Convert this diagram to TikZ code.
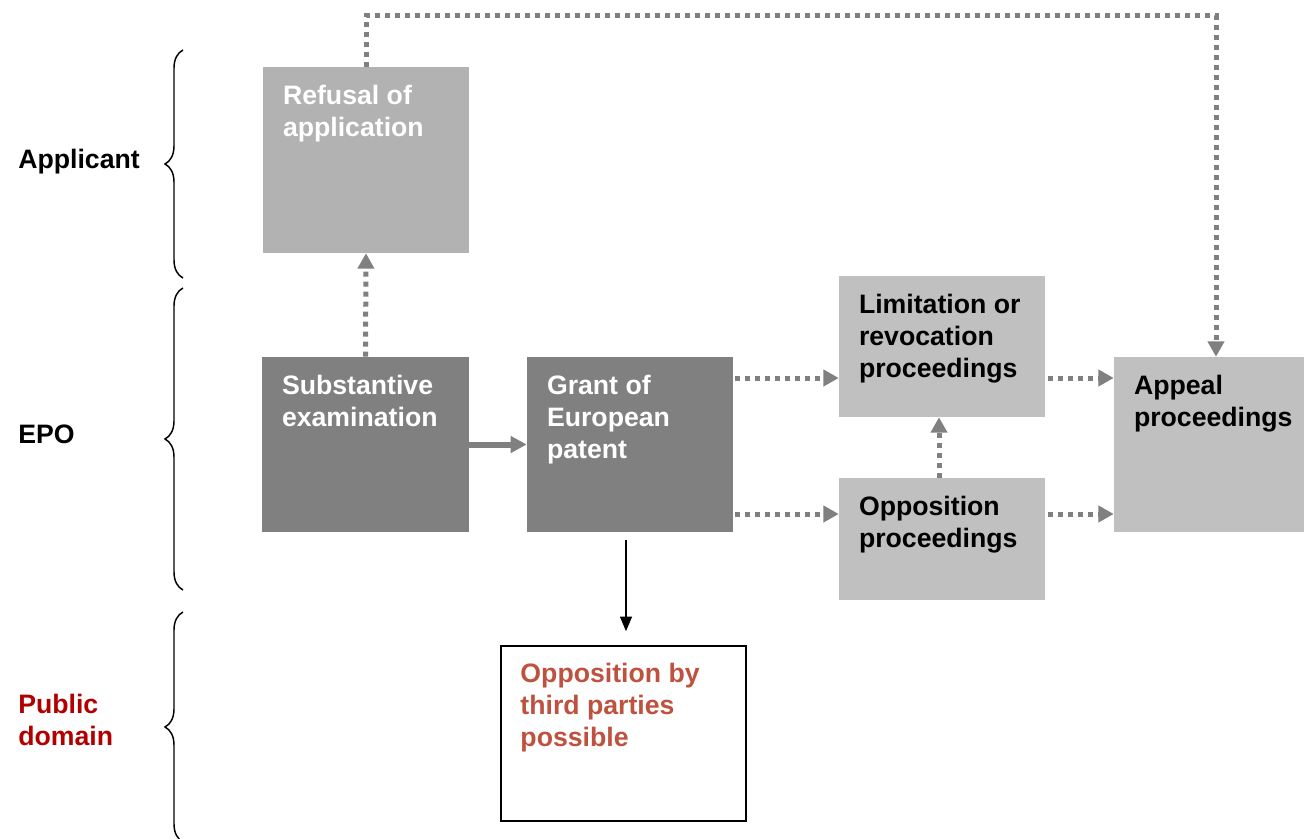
\documentclass[tikz,border=0pt]{standalone}
\usepackage{fontspec}
\setmainfont{Liberation Sans}
\usetikzlibrary{arrows.meta,decorations.pathreplacing,positioning}
\definecolor{darkstage}{RGB}{128,128,128}
\definecolor{refusalgray}{RGB}{178,178,178}
\definecolor{palestage}{RGB}{192,192,192}
\definecolor{arrowgray}{RGB}{128,128,128}
\definecolor{publicred}{RGB}{176,0,0}
\definecolor{thirdred}{RGB}{190,82,62}
\begin{document}
\begin{tikzpicture}[x=0.75pt,y=-0.75pt]

    \tikzset{
      stage/.style={
        draw=none,
        inner sep=0pt,
        minimum width=154.5pt,
        minimum height=131.25pt,
      },
      stagetext/.style={
        anchor=north west,
        inner xsep=15pt,
        inner ysep=13.5pt,
        align=left,
        font=\bfseries\fontsize{20pt}{24pt}\selectfont,
      },
      sidetext/.style={
        anchor=west,
        inner sep=0pt,
        align=left,
        font=\bfseries\fontsize{20pt}{24pt}\selectfont,
      },
      groupbrace/.style={
        decorate,
        decoration={brace,amplitude=13.5pt},
        line width=1.1pt,
      },
      flowdots/.style={
        draw=arrowgray,
        line width=3.75pt,
        dash pattern=on 3.75pt off 3.75pt,
        -{Triangle[length=11.5pt,width=12pt]},
      },
      flowline/.style={
        draw=arrowgray,
        line width=4.5pt,
        -{Triangle[length=12pt,width=12pt]},
      },
      thinarrow/.style={
        draw=black,
        line width=1.1pt,
        -{Triangle[length=11pt,width=9pt]},
      },
    }
    \useasboundingbox (0,0) rectangle (1304,839);

    % side labels and braces
    \node[sidetext] (applicant) at (18,162) {Applicant};
    \node[sidetext] (epo) at (18,434) {EPO};
    \node[sidetext,text=publicred] (public) at (18,720) {Public\\domain};
    \draw[groupbrace] (183,278) -- (183,50);
    \draw[groupbrace] (183,590) -- (183,288);
    \draw[groupbrace] (183,842) -- (183,612);

    % stages
    \node[stage,fill=refusalgray,minimum height=139.5pt,
      label={[stagetext,text=white]north west:{Refusal of\\application}}] (refusal) at (366,160) {};
    \node[stage,fill=darkstage,minimum width=155.25pt,
      label={[stagetext,text=white]north west:{Substantive\\examination}}] (exam) at (365.5,444.5) {};
    \node[stage,fill=darkstage,
      label={[stagetext,text=white]north west:{Grant of\\European\\patent}}] (grant) at (630,444.5) {};
    \node[stage,fill=palestage,minimum height=105.75pt,
      label={[stagetext]north west:{Limitation or\\revocation\\proceedings}}] (limit) at (942,346.5) {};
    \node[stage,fill=palestage,minimum height=91.5pt,
      label={[stagetext]north west:{Opposition\\proceedings}}] (oppo) at (942,539) {};
    \node[stage,fill=palestage,minimum width=142.5pt,
      label={[stagetext]north west:{Appeal\\proceedings}}] (appeal) at (1209,444.5) {};
    \node[stage,draw=black,line width=1.2pt,minimum width=183.75pt,
      label={[stagetext,text=thirdred]north west:{Opposition by\\third parties\\possible}}] (third) at (623.5,733.5) {};

    % connectors
    \coordinate (upper) at (0,378);
    \coordinate (lower) at (0,514);
    \draw[flowdots] (refusal.north) -- ++(0,-51) -| ([xshift=5.25pt]appeal.north);
    \draw[flowdots] (exam.north) -- (refusal.south);
    \draw[flowline] (exam.east) -- (grant.west);
    \draw[flowdots,shorten <=1.5pt] (grant.east |- upper) -- (limit.west |- upper);
    \draw[flowdots,shorten <=1.5pt] (grant.east |- lower) -- (oppo.west |- lower);
    \draw[flowdots] ([xshift=-2.25pt]oppo.north) -- ([xshift=-2.25pt]limit.south);
    \draw[flowdots,shorten <=2.25pt] (limit.east |- upper) -- (appeal.west |- upper);
    \draw[flowdots,shorten <=2.25pt] (oppo.east |- lower) -- (appeal.west |- lower);
    \draw[thinarrow,shorten <=6pt,shorten >=10.5pt] ([xshift=-3pt]grant.south) -- ([xshift=-3pt]grant.south |- third.north);

\end{tikzpicture}
\end{document}
